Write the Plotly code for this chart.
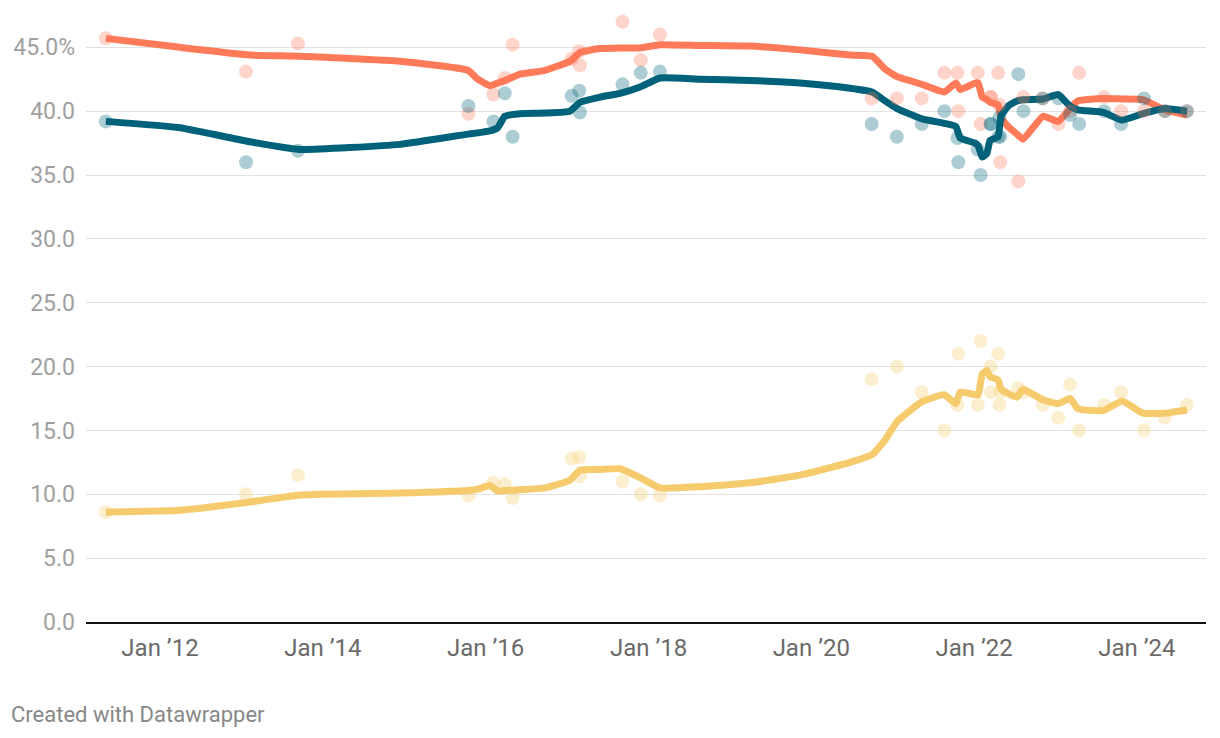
import plotly.graph_objects as go

# ---- poll data (dots) ----
poll_dates = [
    "2011-05-03", "2013-01-21", "2013-09-11", "2015-10-16", "2016-02-05", "2016-03-27",
    "2016-05-01", "2017-01-21", "2017-02-24", "2017-02-27", "2017-09-06", "2017-11-27",
    "2018-02-21", "2020-09-28", "2021-01-19", "2021-05-11", "2021-08-20", "2021-10-18",
    "2021-10-22", "2022-01-17", "2022-01-30", "2022-03-15", "2022-03-17", "2022-04-19",
    "2022-04-24", "2022-04-28", "2022-07-18", "2022-08-10", "2022-11-04", "2023-01-14",
    "2023-03-07", "2023-04-17", "2023-08-07", "2023-10-22", "2024-02-02", "2024-05-06",
    "2024-08-12",
]
poll_orange = [
    45.7, 43.1, 45.3, 39.8, 41.3, 42.6, 45.2, 44.1, 44.7, 43.6, 47.0, 44.0, 46.0,
    41.0, 41.0, 41.0, 43.0, 43.0, 40.0, 43.0, 39.0, 41.1, 41.1, 43.0, 40.5, 36.0,
    34.5, 41.1, 41.0, 39.0, 40.0, 43.0, 41.1, 40.0, 40.0, 40.0, 40.0,
]
poll_teal = [
    39.2, 36.0, 36.9, 40.4, 39.2, 41.4, 38.0, 41.2, 41.6, 39.9, 42.1, 43.0, 43.1,
    39.0, 38.0, 39.0, 40.0, 37.9, 36.0, 37.0, 35.0, 39.0, 39.0, 38.0, 39.5, 38.0,
    42.9, 40.0, 41.0, 41.0, 39.7, 39.0, 40.0, 39.0, 41.0, 40.0, 40.0,
]
poll_yellow = [
    8.6, 10.0, 11.5, 9.9, 10.9, 10.8, 9.7, 12.8, 12.9, 11.4, 11.0, 10.0, 9.9,
    19.0, 20.0, 18.0, 15.0, 17.0, 21.0, 17.0, 22.0, 20.0, 18.0, 21.0, 17.0, 18.0,
    18.3, 18.0, 17.0, 16.0, 18.6, 15.0, 17.0, 18.0, 15.0, 16.0, 17.0,
]

# ---- trend lines ----
trend_dates = [
    "2011-05-03", "2012-03-31", "2013-02-08", "2013-09-20", "2014-12-13", "2015-10-13",
    "2015-11-27", "2016-01-20", "2016-02-24", "2016-03-27", "2016-06-03", "2016-09-24",
    "2017-01-13", "2017-02-28", "2017-05-28", "2017-08-26", "2017-11-24", "2018-02-22",
    "2018-08-19", "2019-04-01", "2019-11-11", "2020-06-23", "2020-09-30", "2020-11-27",
    "2021-01-20", "2021-05-12", "2021-08-19", "2021-10-11", "2021-10-30", "2022-01-05",
    "2022-01-19", "2022-02-06", "2022-02-27", "2022-03-13", "2022-04-18", "2022-05-01",
    "2022-06-02", "2022-07-12", "2022-08-08", "2022-11-06", "2023-01-13", "2023-03-07",
    "2023-04-11", "2023-08-03", "2023-10-26", "2024-01-28", "2024-05-06", "2024-08-13",
]
trend_orange = [
    45.7, 45.0, 44.4, 44.3, 43.9, 43.2, 42.5, 42.0, 42.2, 42.4, 42.9, 43.2,
    43.9, 44.6, 44.9, 44.95, 44.95, 45.2, 45.15, 45.1, 44.8, 44.4, 44.3, 43.3,
    42.7, 42.1, 41.5, 42.2, 41.7, 42.2, 42.2, 41.1, 40.9, 40.7, 40.5, 39.5,
    38.8, 38.2, 37.8, 39.6, 39.2, 40.2, 40.8, 41.0, 40.95, 40.9, 40.1, 39.7,
]
trend_teal = [
    39.2, 38.7, 37.6, 37.0, 37.4, 38.2, 38.3, 38.45, 38.7, 39.6, 39.8, 39.85,
    40.0, 40.7, 41.1, 41.4, 41.9, 42.6, 42.5, 42.4, 42.2, 41.8, 41.5, 40.8,
    40.2, 39.4, 39.05, 38.8, 37.9, 37.5, 37.3, 36.4, 36.7, 37.7, 38.0, 39.6,
    40.4, 40.8, 40.9, 40.95, 41.3, 40.4, 40.1, 39.9, 39.3, 39.8, 40.2, 40.0,
]
trend_yellow = [
    8.6, 8.75, 9.4, 9.95, 10.1, 10.3, 10.4, 10.7, 10.25, 10.3, 10.35, 10.5,
    11.1, 11.9, 11.95, 12.0, 11.3, 10.5, 10.6, 10.9, 11.5, 12.5, 13.1, 14.25,
    15.7, 17.25, 17.8, 17.1, 18.0, 17.8, 17.8, 19.4, 19.7, 19.2, 18.95, 18.2,
    17.9, 17.6, 18.2, 17.4, 17.1, 17.5, 16.7, 16.55, 17.3, 16.35, 16.35, 16.6,
]

y_ticks = [0, 5, 10, 15, 20, 25, 30, 35, 40, 45]
y_ticktext = ["0.0", "5.0", "10.0", "15.0", "20.0", "25.0", "30.0", "35.0", "40.0", "45.0%"]
x_ticks = ["2012-01-01", "2014-01-01", "2016-01-01", "2018-01-01", "2020-01-01", "2022-01-01", "2024-01-01"]
x_ticktext = ["Jan ’12", "Jan ’14", "Jan ’16", "Jan ’18", "Jan ’20", "Jan ’22", "Jan ’24"]

ORANGE = "#ff7a59"
TEAL = "#00627a"
YELLOW = "#f6cb6e"
series = [
    (trend_yellow, poll_yellow, YELLOW, "rgba(246,204,110,0.32)"),
    (trend_orange, poll_orange, ORANGE, "rgba(255,122,89,0.32)"),
    (trend_teal, poll_teal, TEAL, "rgba(0,98,122,0.32)"),
]

fig = go.Figure()
for trend, _, col, _ in series:
    fig.add_trace(go.Scatter(x=trend_dates, y=trend, mode="lines",
                             line=dict(color=col, width=7, shape="spline", smoothing=0.4),
                             hoverinfo="skip", showlegend=False))
for _, polls, _, dotcol in series:
    fig.add_trace(go.Scatter(x=poll_dates, y=polls, mode="markers",
                             marker=dict(color=dotcol, size=14, line=dict(width=0)),
                             showlegend=False))

# page body has an 8px default margin, so plot margins are offset by it
fig.update_layout(
    width=1220, height=738,
    margin=dict(l=78, r=22, t=1, b=124),
    paper_bgcolor="white", plot_bgcolor="white",
    font=dict(family="Roboto", color="#999999"),
    xaxis=dict(
        type="date", range=["2011-02-03", "2024-11-06"], automargin=False,
        tickvals=x_ticks, ticktext=x_ticktext,
        tickfont=dict(size=24, color="#6a6a6a", family="Roboto"),
        showgrid=False, ticks="", ticklabelstandoff=3,
        showline=True, linecolor="#111111", linewidth=2,
        zeroline=False,
    ),
    yaxis=dict(
        range=[0, 48], tickvals=y_ticks, ticktext=y_ticktext, automargin=False,
        tickfont=dict(size=23, color="#a0a0a0", family="Roboto"),
        showgrid=True, gridcolor="#e2e2e2", gridwidth=1,
        ticks="", ticklabelstandoff=10, zeroline=False, showline=False,
    ),
    annotations=[dict(
        text="Created with Datawrapper", xref="paper", yref="paper",
        x=-77 / 1120, y=-92 / 613, xanchor="left", yanchor="middle", showarrow=False,
        font=dict(size=22, color="#888888", family="Roboto"),
    )],
)

fig.write_html("out.html")
